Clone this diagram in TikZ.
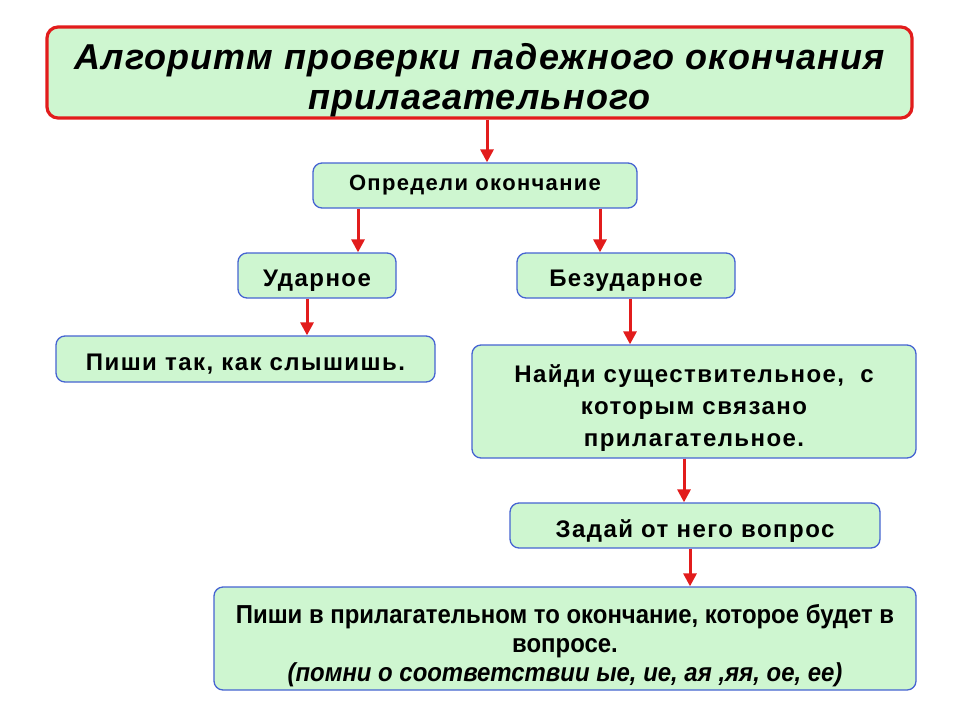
\documentclass[tikz,border=0pt]{standalone}
\usepackage{fontspec}
\setmainfont{Liberation Sans}
\newfontfamily\narrowfont[FakeStretch=0.92]{Liberation Sans}
\newfontfamily\spacedfont[LetterSpace=6]{Liberation Sans}
\newfontfamily\titlefont[LetterSpace=3]{Liberation Sans}
\usetikzlibrary{arrows.meta}
\definecolor{boxgreen}{RGB}{206,246,208}
\definecolor{boxblue}{RGB}{70,100,210}
\definecolor{arrred}{RGB}{226,28,28}
\newcommand\topstrut[1]{\rule{0pt}{#1}}
\tikzset{
  box/.style={draw=boxblue, line width=1.3pt, fill=boxgreen, rounded corners=9pt,
    align=center, inner sep=0pt, font=\spacedfont\bfseries\fontsize{24}{28}\selectfont},
  titlebox/.style={draw=arrred, line width=3.2pt, fill=boxgreen, rounded corners=11pt,
    align=center, inner sep=0pt, font=\titlefont\bfseries\itshape\fontsize{36}{40}\selectfont},
  arr/.style={draw=arrred, line width=3pt, -{Triangle[width=13pt,length=13pt]}}
}
\begin{document}
\begin{tikzpicture}[x=1pt,y=-1pt]
\useasboundingbox (0,0) rectangle (960,720);
\fill[white] (0,0) rectangle (960,720);
\node[titlebox, minimum width=865pt, minimum height=91pt] (title) at (479.5,72.5)
  {\topstrut{40.6pt}Алгоритм проверки падежного окончания\\прилагательного};
\node[box, minimum width=324pt, minimum height=45pt, font=\spacedfont\bfseries\fontsize{22}{26}\selectfont] (opr) at (475,185.5) {Определи окончание};
\node[box, minimum width=158pt, minimum height=45pt] (ud) at (317,275.5) {\topstrut{27.7pt}Ударное};
\node[box, minimum width=218pt, minimum height=45pt] (bez) at (626,275.5) {\topstrut{27.7pt}Безударное};
\node[box, minimum width=379pt, minimum height=46pt] (pishi) at (245.5,359) {\topstrut{27.7pt}Пиши так, как слышишь.};
\node[box, minimum width=444pt, minimum height=113pt, font=\spacedfont\bfseries\fontsize{24}{32}\selectfont] (naidi) at (694,401.5)
  {\topstrut{31.7pt}Найди существительное,\ \ с\\которым связано\\прилагательное.};
\node[box, minimum width=370pt, minimum height=45pt] (zadai) at (695,525.5) {\topstrut{28.7pt}Задай от него вопрос};
\node[box, minimum width=702pt, minimum height=103pt, font=\narrowfont\bfseries\fontsize{26}{29}\selectfont] (last) at (565,638.5)
  {\topstrut{33.5pt}Пиши в прилагательном то окончание, которое будет в\\вопросе.\\{\itshape (помни о соответствии ые, ие, ая ,яя, ое, ее)}};
\draw[arr] (title.south -| 487,0) -- (opr.north -| 487,0);
\draw[arr] (opr.south -| 358,0) -- (ud.north -| 358,0);
\draw[arr] (opr.south -| 600,0) -- (bez.north -| 600,0);
\draw[arr] (ud.south -| 307,0) -- (pishi.north -| 307,0);
\draw[arr] (bez.south -| 630,0) -- (naidi.north -| 630,0);
\draw[arr] (naidi.south -| 684,0) -- (zadai.north -| 684,0);
\draw[arr] (zadai.south -| 690,0) -- (last.north -| 690,0);
\end{tikzpicture}
\end{document}
